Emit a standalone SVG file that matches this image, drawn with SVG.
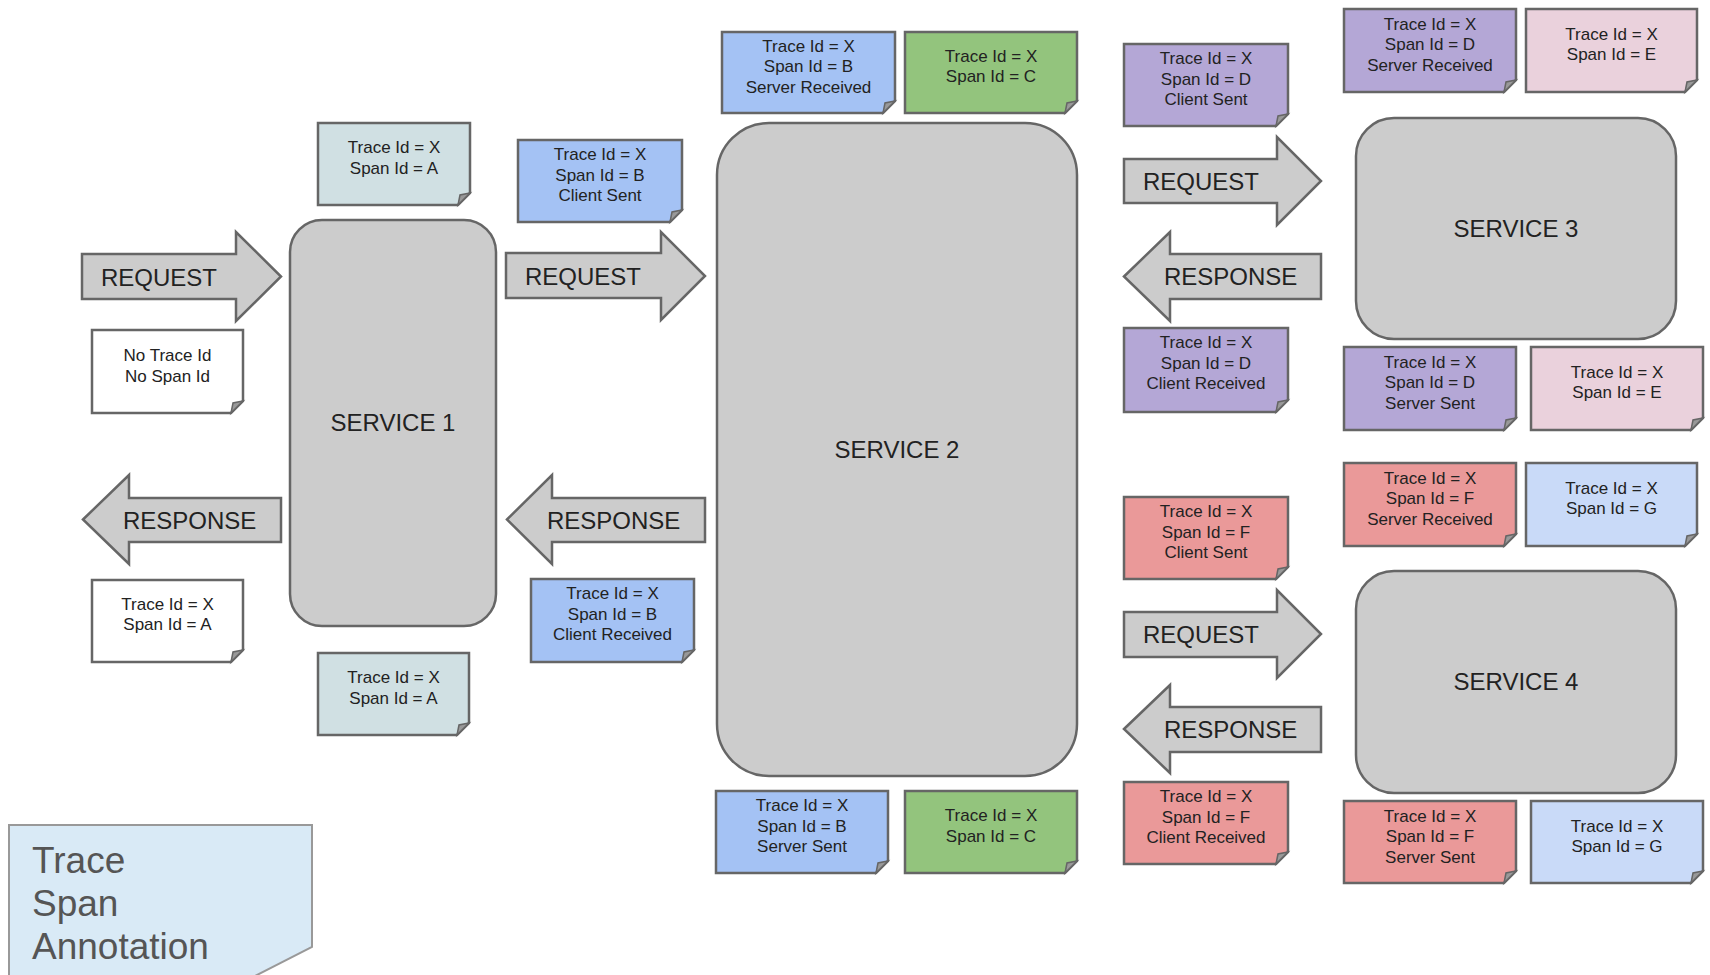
<svg xmlns="http://www.w3.org/2000/svg" width="1710" height="975" viewBox="0 0 1710 975">
<style>
.svc{fill:#cccccc;stroke:#666;stroke-width:2.5}
.arr{fill:#cccccc;stroke:#666;stroke-width:2.5;stroke-linejoin:miter}
.big{font-family:"Liberation Sans",Arial,sans-serif;font-size:24px;fill:#222}
.nt{font-family:"Liberation Sans",Arial,sans-serif;font-size:17px;fill:#222;text-anchor:middle}
.nb{stroke:#666;stroke-width:2.5}
.fold{fill:#999;stroke:#666;stroke-width:1.5}
.wh{fill:#ffffff}.ga{fill:#d0e0e3}.bl{fill:#a4c2f4}.gr{fill:#93c47d}.pu{fill:#b4a7d6}.pk{fill:#ead1dc}.rd{fill:#ea9999}.lb{fill:#c9daf8}
</style>
<rect width="1710" height="975" fill="#ffffff"/>

<g id="connectors">
  <g id="req1"><path class="arr" d="M82,254 H236 V232 L281,276.5 L236,321 V299 H82 Z"/><text class="big" x="101" y="285.5">REQUEST</text></g>
  <g id="resp1"><path class="arr" d="M83,519.5 L129,475 V498 H281 V542 H129 V564 Z"/><text class="big" x="123" y="528.5">RESPONSE</text></g>
  <g id="req2"><path class="arr" d="M506,253 H661 V232 L705,276 L661,320 V298 H506 Z"/><text class="big" x="525" y="285">REQUEST</text></g>
  <g id="resp2"><path class="arr" d="M507,519.5 L552,475 V498 H705 V542 H552 V564 Z"/><text class="big" x="547" y="528.5">RESPONSE</text></g>
  <g id="req3"><path class="arr" d="M1124,159 H1277 V137 L1321,181 L1277,225 V203 H1124 Z"/><text class="big" x="1143" y="189.5">REQUEST</text></g>
  <g id="resp3"><path class="arr" d="M1124,276.5 L1170,232 V254 H1321 V299 H1170 V321 Z"/><text class="big" x="1164" y="285">RESPONSE</text></g>
  <g id="req4"><path class="arr" d="M1124,612 H1277 V590 L1321,634 L1277,678 V657 H1124 Z"/><text class="big" x="1143" y="643">REQUEST</text></g>
  <g id="resp4"><path class="arr" d="M1124,729 L1170,685 V707 H1321 V752 H1170 V773 Z"/><text class="big" x="1164" y="738">RESPONSE</text></g>
</g>

<g id="service1"><rect class="svc" x="290" y="220" width="206" height="406" rx="32"/><text class="big" x="393" y="431" text-anchor="middle">SERVICE 1</text></g>
<g id="service2"><rect class="svc" x="717" y="123" width="360" height="653" rx="52"/><text class="big" x="897" y="458" text-anchor="middle">SERVICE 2</text></g>
<g id="service3"><rect class="svc" x="1356" y="118" width="320" height="221" rx="38"/><text class="big" x="1516" y="237" text-anchor="middle">SERVICE 3</text></g>
<g id="service4"><rect class="svc" x="1356" y="571" width="320" height="222" rx="38"/><text class="big" x="1516" y="690" text-anchor="middle">SERVICE 4</text></g>

<!-- notes -->
<g id="note-a-top" transform="translate(318,123)"><path class="nb ga" d="M0,0 H152 V70 L140,82 H0 Z"/><path class="fold" d="M152,70 L142,72 L140,82 Z"/><text class="nt" x="76" y="30">Trace Id = X</text><text class="nt" x="76" y="50.5">Span Id = A</text></g>
<g id="note-notrace" transform="translate(92,330)"><path class="nb wh" d="M0,0 H151 V71 L139,83 H0 Z"/><path class="fold" d="M151,71 L141,73 L139,83 Z"/><text class="nt" x="75.5" y="31">No Trace Id</text><text class="nt" x="75.5" y="51.5">No Span Id</text></g>
<g id="note-white-a" transform="translate(92,580)"><path class="nb wh" d="M0,0 H151 V70 L139,82 H0 Z"/><path class="fold" d="M151,70 L141,72 L139,82 Z"/><text class="nt" x="75.5" y="29.5">Trace Id = X</text><text class="nt" x="75.5" y="50">Span Id = A</text></g>
<g id="note-a-bottom" transform="translate(318,653)"><path class="nb ga" d="M0,0 H151 V70 L139,82 H0 Z"/><path class="fold" d="M151,70 L141,72 L139,82 Z"/><text class="nt" x="75.5" y="30">Trace Id = X</text><text class="nt" x="75.5" y="50.5">Span Id = A</text></g>

<g id="note-b-cs" transform="translate(518,140)"><path class="nb bl" d="M0,0 H164 V70 L152,82 H0 Z"/><path class="fold" d="M164,70 L154,72 L152,82 Z"/><text class="nt" x="82" y="20">Trace Id = X</text><text class="nt" x="82" y="40.5">Span Id = B</text><text class="nt" x="82" y="61">Client Sent</text></g>
<g id="note-b-cr" transform="translate(531,579)"><path class="nb bl" d="M0,0 H163 V71 L151,83 H0 Z"/><path class="fold" d="M163,71 L153,73 L151,83 Z"/><text class="nt" x="81.5" y="20">Trace Id = X</text><text class="nt" x="81.5" y="40.5">Span Id = B</text><text class="nt" x="81.5" y="61">Client Received</text></g>
<g id="note-b-sr" transform="translate(722,32)"><path class="nb bl" d="M0,0 H173 V69 L161,81 H0 Z"/><path class="fold" d="M173,69 L163,71 L161,81 Z"/><text class="nt" x="86.5" y="19.5">Trace Id = X</text><text class="nt" x="86.5" y="40">Span Id = B</text><text class="nt" x="86.5" y="60.5">Server Received</text></g>
<g id="note-c-top" transform="translate(905,32)"><path class="nb gr" d="M0,0 H172 V69 L160,81 H0 Z"/><path class="fold" d="M172,69 L162,71 L160,81 Z"/><text class="nt" x="86" y="29.5">Trace Id = X</text><text class="nt" x="86" y="50">Span Id = C</text></g>
<g id="note-b-ss" transform="translate(716,791)"><path class="nb bl" d="M0,0 H172 V70 L160,82 H0 Z"/><path class="fold" d="M172,70 L162,72 L160,82 Z"/><text class="nt" x="86" y="20">Trace Id = X</text><text class="nt" x="86" y="40.5">Span Id = B</text><text class="nt" x="86" y="61">Server Sent</text></g>
<g id="note-c-bottom" transform="translate(905,791)"><path class="nb gr" d="M0,0 H172 V70 L160,82 H0 Z"/><path class="fold" d="M172,70 L162,72 L160,82 Z"/><text class="nt" x="86" y="30">Trace Id = X</text><text class="nt" x="86" y="50.5">Span Id = C</text></g>

<g id="note-d-cs" transform="translate(1124,44)"><path class="nb pu" d="M0,0 H164 V70 L152,82 H0 Z"/><path class="fold" d="M164,70 L154,72 L152,82 Z"/><text class="nt" x="82" y="20">Trace Id = X</text><text class="nt" x="82" y="40.5">Span Id = D</text><text class="nt" x="82" y="61">Client Sent</text></g>
<g id="note-d-sr" transform="translate(1344,9)"><path class="nb pu" d="M0,0 H172 V71 L160,83 H0 Z"/><path class="fold" d="M172,71 L162,73 L160,83 Z"/><text class="nt" x="86" y="20.5">Trace Id = X</text><text class="nt" x="86" y="41">Span Id = D</text><text class="nt" x="86" y="61.5">Server Received</text></g>
<g id="note-e-top" transform="translate(1526,9)"><path class="nb pk" d="M0,0 H171 V71 L159,83 H0 Z"/><path class="fold" d="M171,71 L161,73 L159,83 Z"/><text class="nt" x="85.5" y="30.5">Trace Id = X</text><text class="nt" x="85.5" y="51">Span Id = E</text></g>
<g id="note-d-cr" transform="translate(1124,328)"><path class="nb pu" d="M0,0 H164 V72 L152,84 H0 Z"/><path class="fold" d="M164,72 L154,74 L152,84 Z"/><text class="nt" x="82" y="20">Trace Id = X</text><text class="nt" x="82" y="40.5">Span Id = D</text><text class="nt" x="82" y="61">Client Received</text></g>
<g id="note-d-ss" transform="translate(1344,347)"><path class="nb pu" d="M0,0 H172 V71 L160,83 H0 Z"/><path class="fold" d="M172,71 L162,73 L160,83 Z"/><text class="nt" x="86" y="20.5">Trace Id = X</text><text class="nt" x="86" y="41">Span Id = D</text><text class="nt" x="86" y="61.5">Server Sent</text></g>
<g id="note-e-bottom" transform="translate(1531,347)"><path class="nb pk" d="M0,0 H172 V71 L160,83 H0 Z"/><path class="fold" d="M172,71 L162,73 L160,83 Z"/><text class="nt" x="86" y="30.5">Trace Id = X</text><text class="nt" x="86" y="51">Span Id = E</text></g>

<g id="note-f-cs" transform="translate(1124,497)"><path class="nb rd" d="M0,0 H164 V70 L152,82 H0 Z"/><path class="fold" d="M164,70 L154,72 L152,82 Z"/><text class="nt" x="82" y="20">Trace Id = X</text><text class="nt" x="82" y="40.5">Span Id = F</text><text class="nt" x="82" y="61">Client Sent</text></g>
<g id="note-f-sr" transform="translate(1344,463)"><path class="nb rd" d="M0,0 H172 V71 L160,83 H0 Z"/><path class="fold" d="M172,71 L162,73 L160,83 Z"/><text class="nt" x="86" y="20.5">Trace Id = X</text><text class="nt" x="86" y="41">Span Id = F</text><text class="nt" x="86" y="61.5">Server Received</text></g>
<g id="note-g-top" transform="translate(1526,463)"><path class="nb lb" d="M0,0 H171 V71 L159,83 H0 Z"/><path class="fold" d="M171,71 L161,73 L159,83 Z"/><text class="nt" x="85.5" y="30.5">Trace Id = X</text><text class="nt" x="85.5" y="51">Span Id = G</text></g>
<g id="note-f-cr" transform="translate(1124,782)"><path class="nb rd" d="M0,0 H164 V70 L152,82 H0 Z"/><path class="fold" d="M164,70 L154,72 L152,82 Z"/><text class="nt" x="82" y="20">Trace Id = X</text><text class="nt" x="82" y="40.5">Span Id = F</text><text class="nt" x="82" y="61">Client Received</text></g>
<g id="note-f-ss" transform="translate(1344,801)"><path class="nb rd" d="M0,0 H172 V70 L160,82 H0 Z"/><path class="fold" d="M172,70 L162,72 L160,82 Z"/><text class="nt" x="86" y="20.5">Trace Id = X</text><text class="nt" x="86" y="41">Span Id = F</text><text class="nt" x="86" y="61.5">Server Sent</text></g>
<g id="note-g-bottom" transform="translate(1531,801)"><path class="nb lb" d="M0,0 H172 V70 L160,82 H0 Z"/><path class="fold" d="M172,70 L162,72 L160,82 Z"/><text class="nt" x="86" y="30.5">Trace Id = X</text><text class="nt" x="86" y="51">Span Id = G</text></g>

<g id="legend">
  <path d="M9,825 H312 V947 L255,976 H9 Z" fill="#d9eaf6" stroke="#999" stroke-width="2"/>
  <g font-family="'Liberation Sans',Arial,sans-serif" font-size="37" fill="#555">
    <text x="32" y="873">Trace</text>
    <text x="32" y="916">Span</text>
    <text x="32" y="959">Annotation</text>
  </g>
</g>
</svg>
